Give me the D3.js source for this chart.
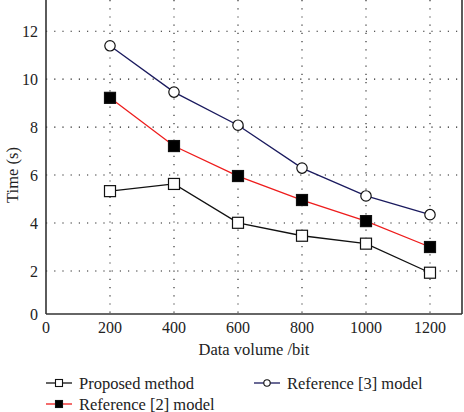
<!DOCTYPE html>
<html><head><meta charset="utf-8">
<script src="https://cdn.jsdelivr.net/npm/d3@7"></script>
<style>body{margin:0;background:#fff}svg{display:block}text{font-family:"Liberation Serif","DejaVu Serif","Times New Roman",serif}</style>
</head><body>
<svg id="c" width="464" height="412"></svg>
<script>
const xValues = [200, 400, 600, 800, 1000, 1200];
const proposed = [5.33, 5.63, 4.01, 3.47, 3.14, 1.92];
const ref2 = [9.22, 7.21, 5.96, 4.96, 4.08, 3.0];
const ref3 = [11.39, 9.46, 8.08, 6.29, 5.13, 4.35];
const xTicks = [0, 200, 400, 600, 800, 1000, 1200];
const yTicks = [0, 2, 4, 6, 8, 10, 12];
const seriesNames = ["Proposed method", "Reference [2] model", "Reference [3] model"];

(function () {
const svg = d3.select("#c");
const x = d3.scaleLinear().domain([0, 1300]).range([46, 462]);
const y = d3.scaleLinear().domain([0, 2, 13.3]).range([314, 271, 0]);
const pl = 46, pr = 462, pb = 314, pt = 0;
const fs = 16.5, fsT = 16;

// grid
const g = svg.append("g");
xTicks.filter(d => d > 0).forEach(d => {
  g.append("line").attr("x1", x(d)).attr("x2", x(d)).attr("y1", pt).attr("y2", pb)
    .attr("stroke", "#222").attr("stroke-width", 1.1).attr("stroke-dasharray", "1.2,7");
});
yTicks.filter(d => d > 0).forEach(d => {
  g.append("line").attr("x1", pl).attr("x2", pr).attr("y1", y(d)).attr("y2", y(d))
    .attr("stroke", "#222").attr("stroke-width", 1.1).attr("stroke-dasharray", "1.2,7");
});

// axes lines
svg.append("line").attr("x1", pl).attr("x2", pl).attr("y1", pt).attr("y2", pb).attr("stroke", "#333").attr("stroke-width", 1.6);
svg.append("line").attr("x1", pl).attr("x2", pr).attr("y1", pb).attr("y2", pb).attr("stroke", "#333").attr("stroke-width", 1.6);
svg.append("line").attr("x1", pr).attr("x2", pr).attr("y1", pt).attr("y2", pb).attr("stroke", "#333").attr("stroke-width", 1.6);

// tick labels
xTicks.forEach(d => {
  svg.append("text").attr("x", x(d)).attr("y", 333).attr("text-anchor", "middle")
    .attr("font-size", fsT).attr("fill", "#222").text(d);
});
yTicks.forEach(d => {
  svg.append("text").attr("x", 38).attr("y", y(d) + 5.5).attr("text-anchor", "end")
    .attr("font-size", fsT).attr("fill", "#222").text(d);
});
svg.append("text").attr("transform", "translate(18,175) rotate(-90)").attr("text-anchor", "middle")
  .attr("font-size", fs).attr("fill", "#222").text("Time (s)");
svg.append("text").attr("x", 254).attr("y", 355).attr("text-anchor", "middle")
  .attr("font-size", fs).attr("fill", "#222").text("Data volume /bit");

const line = d3.line().x((d, i) => x(xValues[i])).y(d => y(d));
const series = [
  {data: proposed, color: "#111", marker: "square", fill: "#fff"},
  {data: ref2, color: "#ee1c1c", marker: "square", fill: "#000"},
  {data: ref3, color: "#1a1a5e", marker: "circle", fill: "#fff"}
];
series.forEach(s => {
  svg.append("path").attr("d", line(s.data)).attr("fill", "none").attr("stroke", s.color).attr("stroke-width", 1.3);
});
series.forEach(s => {
  s.data.forEach((v, i) => {
    if (s.marker === "square") {
      svg.append("rect").attr("x", x(xValues[i]) - 5.5).attr("y", y(v) - 5.5).attr("width", 11).attr("height", 11)
        .attr("fill", s.fill).attr("stroke", "#111").attr("stroke-width", 1.2);
    } else {
      svg.append("circle").attr("cx", x(xValues[i])).attr("cy", y(v)).attr("r", 5.2)
        .attr("fill", s.fill).attr("stroke", "#111").attr("stroke-width", 1.2);
    }
  });
});

// legend
const legPos = [[46, 383], [46, 404], [254, 383]];
series.forEach((s, i) => {
  const [lx, ly] = legPos[i];
  const lg = svg.append("g");
  lg.append("line").attr("x1", lx).attr("x2", lx + 26).attr("y1", ly).attr("y2", ly).attr("stroke", s.color).attr("stroke-width", 1.3);
  if (s.marker === "square") {
    lg.append("rect").attr("x", lx + 13 - 3.5).attr("y", ly - 3.5).attr("width", 7).attr("height", 7)
      .attr("fill", s.fill).attr("stroke", "#111").attr("stroke-width", 1.1);
  } else {
    lg.append("circle").attr("cx", lx + 13).attr("cy", ly).attr("r", 3.2)
      .attr("fill", s.fill).attr("stroke", "#111").attr("stroke-width", 1.1);
  }
  lg.append("text").attr("x", lx + 33).attr("y", ly + 5.5).attr("font-size", fs)
    .attr("fill", "#222").text(seriesNames[i]);
});
})();
</script>
</body></html>
